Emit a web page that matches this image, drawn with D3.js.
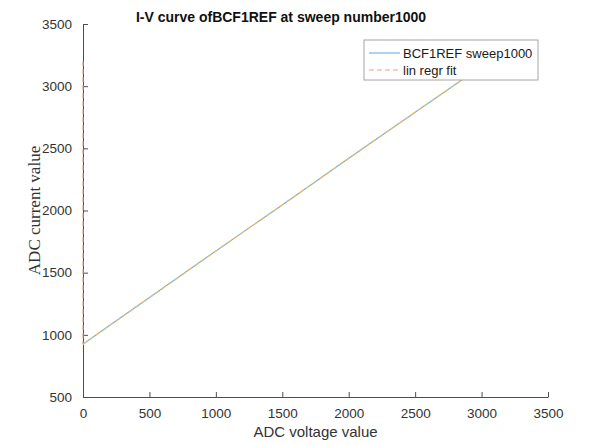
<!DOCTYPE html>
<html>
<head>
<meta charset="utf-8">
<script src="https://cdn.jsdelivr.net/npm/d3@7"></script>
<style>
  html, body { margin: 0; padding: 0; background: #fff; }
  svg { display: block; }
</style>
</head>
<body>
<svg id="chart" width="590" height="446"></svg>
<script>
// Measured sweep: ADC voltage vs ADC current
const sweepVoltage = [0, 100, 500, 1000, 1500, 2000, 2500, 3000];
const sweepCurrent = [925, 1000, 1300, 1675, 2045, 2420, 2790, 3160];

// Linear regression fit, as plotted (includes the segment along x = 0)
const regrVoltage = [0, 0];
const regrCurrent = [3200, 925];
const fitVoltage = [0, 500, 1000, 1500, 2000, 2500, 3000];
const fitCurrent = [925, 1298, 1673, 2045, 2418, 2790, 3160];

const xTicks = [0, 500, 1000, 1500, 2000, 2500, 3000, 3500];
const yTicks = [500, 1000, 1500, 2000, 2500, 3000, 3500];
const legendLabels = ["BCF1REF sweep1000", "lin regr fit"];

const svg = d3.select("#chart");
const plotLeft = 83, plotRight = 548, plotTop = 24, plotBottom = 397;

const x = d3.scaleLinear().domain([0, 3500]).range([plotLeft, plotRight]);
const y = d3.scaleLinear().domain([500, 3500]).range([plotBottom, plotTop]);

const axisColor = "#4d4d4d";
const textColor = "#333";
const fmt = d3.format("d");

// Axes (ticks point inward)
const xAxis = svg.append("g")
  .attr("transform", `translate(0,${plotBottom})`)
  .call(d3.axisBottom(x).tickValues(xTicks).tickFormat(fmt).tickSizeInner(-5).tickSizeOuter(0).tickPadding(11));
const yAxis = svg.append("g")
  .attr("transform", `translate(${plotLeft},0)`)
  .call(d3.axisLeft(y).tickValues(yTicks).tickFormat(fmt).tickSizeInner(-5).tickSizeOuter(0).tickPadding(11));

[xAxis, yAxis].forEach(g => {
  g.select(".domain").attr("stroke", axisColor).attr("stroke-width", 1);
  g.selectAll(".tick line").attr("stroke", axisColor);
  g.selectAll(".tick text")
    .attr("fill", textColor)
    .style("font-family", "'Liberation Sans', Arial, sans-serif")
    .style("font-size", "13.5px");
});

// Lines
const line = d3.line().x(d => x(d[0])).y(d => y(d[1]));
const pts = (vx, vy) => vx.map((v, i) => [v, vy[i]]);

svg.append("path")
  .attr("d", line(pts(sweepVoltage, sweepCurrent)))
  .attr("fill", "none").attr("stroke", "#72b2e2").attr("stroke-width", 1.2);

svg.append("path")
  .attr("d", line(pts(regrVoltage, regrCurrent)))
  .attr("fill", "none").attr("stroke", "#ee9872").attr("stroke-width", 1.2)
  .attr("stroke-dasharray", "5,3");

svg.append("path")
  .attr("d", line(pts(fitVoltage, fitCurrent)))
  .attr("fill", "none").attr("stroke", "#e9c06a").attr("stroke-width", 1.2)
  .attr("stroke-dasharray", "5,3");

// Legend
const lg = svg.append("g");
lg.append("rect")
  .attr("x", 364).attr("y", 40).attr("width", 174).attr("height", 40)
  .attr("fill", "#fff").attr("stroke", "#a6a6a6").attr("stroke-width", 1);
const legendStyles = [
  { color: "#7ab6e2", dash: null },
  { color: "#f0a080", dash: "5,3" }
];
legendLabels.forEach((label, i) => {
  const ly = 53 + i * 17;
  lg.append("line")
    .attr("x1", 369).attr("x2", 400).attr("y1", ly).attr("y2", ly)
    .attr("stroke", legendStyles[i].color).attr("stroke-width", 1.2)
    .attr("stroke-dasharray", legendStyles[i].dash);
  lg.append("text")
    .attr("x", 403).attr("y", ly).attr("dy", "0.35em")
    .attr("fill", "#1a1a1a")
    .style("font-family", "'Liberation Sans', Arial, sans-serif")
    .style("font-size", "13px")
    .text(label);
});

// Title and axis labels
svg.append("text")
  .attr("x", 281).attr("y", 22)
  .attr("text-anchor", "middle")
  .attr("fill", "#111")
  .style("font-family", "'Liberation Sans', Arial, sans-serif")
  .style("font-size", "14px").style("font-weight", "bold")
  .text("I-V curve ofBCF1REF at sweep number1000");

svg.append("text")
  .attr("x", (plotLeft + plotRight) / 2).attr("y", 437)
  .attr("text-anchor", "middle")
  .attr("fill", textColor)
  .style("font-family", "'Liberation Sans', Arial, sans-serif")
  .style("font-size", "15px")
  .text("ADC voltage value");

svg.append("text")
  .attr("transform", `translate(40,${(plotTop + plotBottom) / 2}) rotate(-90)`)
  .attr("text-anchor", "middle")
  .attr("fill", textColor)
  .style("font-family", "'Liberation Serif', 'Times New Roman', serif")
  .style("font-size", "17px")
  .text("ADC current value");
</script>
</body>
</html>
